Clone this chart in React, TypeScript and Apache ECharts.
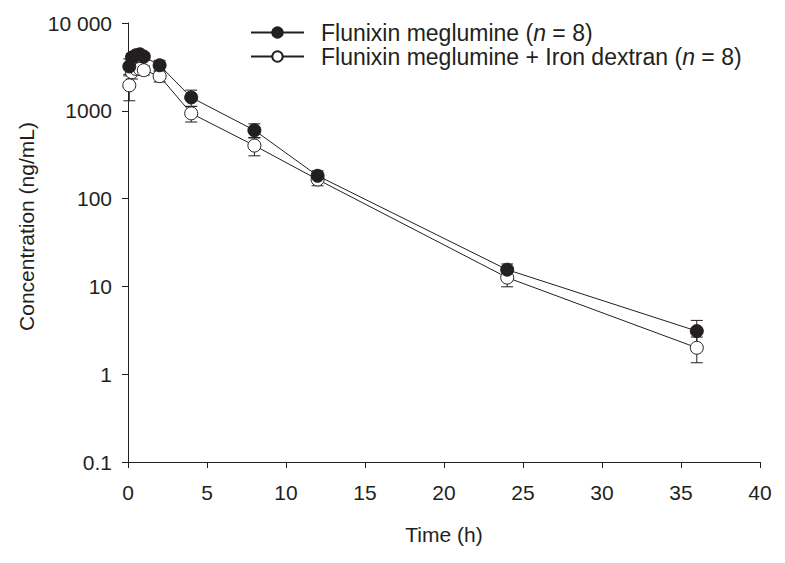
import React, { useEffect, useRef } from "react";
import * as echarts from "echarts";

const times = [0.083, 0.25, 0.5, 0.75, 1, 2, 4, 8, 12, 24, 36];
const fmMean = [3200, 4050, 4300, 4400, 4150, 3300, 1420, 600, 182, 15.5, 3.1];
const fmSD = [700, 450, 400, 400, 400, 450, 300, 110, 25, 2.5, 1.0];
const fmIdMean = [1950, 2750, 3000, 3000, 2900, 2480, 935, 402, 165, 12.6, 2.0];
const fmIdSD = [650, 450, 400, 400, 350, 350, 190, 95, 25, 2.7, 0.65];
const xTicks = [0, 5, 10, 15, 20, 25, 30, 35, 40];
const seriesNames = ["Flunixin meglumine", "Flunixin meglumine + Iron dextran"];

const INK = "#231f20";
const FONT = "'Liberation Sans', Arial, sans-serif";

function errData(mean: number[], sd: number[]) {
  return times.map((t, i) => [t, Math.max(mean[i] - sd[i], 0.11), mean[i] + sd[i]]);
}

function errSeries(mean: number[], sd: number[], z: number) {
  return {
    type: "custom",
    z,
    silent: true,
    data: errData(mean, sd),
    renderItem: (params: any, api: any) => {
      const x = api.value(0);
      const lo = api.coord([x, api.value(1)]);
      const hi = api.coord([x, api.value(2)]);
      const hw = 6;
      const style = { stroke: INK, lineWidth: 1 };
      return {
        type: "group",
        children: [
          { type: "line", shape: { x1: lo[0], y1: lo[1], x2: hi[0], y2: hi[1] }, style },
          { type: "line", shape: { x1: lo[0] - hw, y1: lo[1], x2: lo[0] + hw, y2: lo[1] }, style },
          { type: "line", shape: { x1: hi[0] - hw, y1: hi[1], x2: hi[0] + hw, y2: hi[1] }, style },
        ],
      };
    },
  };
}

export default function App() {
  const ref = useRef<HTMLDivElement>(null);
  useEffect(() => {
    if (!ref.current) return;
    const chart = echarts.init(ref.current, null, { renderer: "svg" });
    chart.setOption({
      animation: false,
      backgroundColor: "#ffffff",
      textStyle: { fontFamily: FONT },
      grid: { left: 128, right: 25, top: 23, bottom: 101, containLabel: false },
      legend: {
        left: 250,
        top: 21,
        padding: 0,
        orient: "vertical",
        itemWidth: 53,
        itemHeight: 13,
        itemGap: 1,
        data: seriesNames,
        textStyle: {
          fontFamily: FONT,
          fontSize: 23,
          lineHeight: 20,
          color: INK,
          padding: [0, 0, 0, 12],
          rich: {
            a: { fontFamily: FONT, fontSize: 23, lineHeight: 20, color: INK },
            i: { fontFamily: FONT, fontSize: 23, lineHeight: 20, color: INK, fontStyle: "italic" },
          },
        },
        formatter: (name: string) => `{a|${name} (}{i|n}{a| = 8)}`,
      },
      xAxis: {
        type: "value",
        min: 0,
        max: 40,
        interval: 5,
        name: "Time (h)",
        nameLocation: "middle",
        nameGap: 62,
        nameTextStyle: { fontFamily: FONT, fontSize: 21, color: INK },
        axisLine: { onZero: false, lineStyle: { color: INK, width: 1 } },
        axisTick: { show: true, length: 6, lineStyle: { color: INK } },
        axisLabel: {
          fontFamily: FONT,
          fontSize: 21,
          color: INK,
          margin: 20,
          formatter: (v: number) => (xTicks.includes(v) ? String(v) : ""),
        },
        splitLine: { show: false },
      },
      yAxis: {
        type: "log",
        logBase: 10,
        min: 0.1,
        max: 10000,
        name: "Concentration (ng/mL)",
        nameLocation: "middle",
        nameGap: 82,
        nameRotate: 90,
        nameTextStyle: { fontFamily: FONT, fontSize: 21, color: INK, padding: [0, 0, 0, 32] },
        axisLine: { show: true, lineStyle: { color: INK, width: 1 } },
        axisTick: { show: true, length: 6, lineStyle: { color: INK } },
        axisLabel: {
          fontFamily: FONT,
          fontSize: 21,
          color: INK,
          margin: 16,
          formatter: (v: number) => {
            if (v >= 9999) return "10 000";
            if (v < 0.5) return "0.1";
            return String(Math.round(v));
          },
        },
        splitLine: { show: false },
      },
      series: [
        errSeries(fmMean, fmSD, 1),
        errSeries(fmIdMean, fmIdSD, 1),
        {
          name: seriesNames[0],
          type: "line",
          z: 3,
          data: times.map((t, i) => [t, fmMean[i]]),
          symbol: "circle",
          symbolSize: 13,
          lineStyle: { color: INK, width: 1 },
          itemStyle: { color: INK, borderColor: INK, borderWidth: 1 },
        },
        {
          name: seriesNames[1],
          type: "line",
          z: 2,
          data: times.map((t, i) => [t, fmIdMean[i]]),
          symbol: "circle",
          symbolSize: 13,
          lineStyle: { color: INK, width: 1 },
          itemStyle: { color: "#ffffff", borderColor: INK, borderWidth: 1 },
        },
      ],
    });
    return () => chart.dispose();
  }, []);
  return (
    <div
      ref={ref}
      style={{ position: "absolute", left: 0, top: 0, width: 785, height: 563 }}
    />
  );
}
